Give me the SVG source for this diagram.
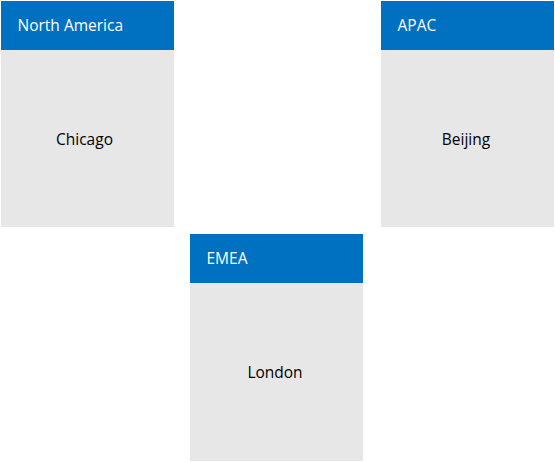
<svg xmlns="http://www.w3.org/2000/svg" width="555" height="462" viewBox="0 0 555 462">
<style>
.body{fill:#E7E7E7}
.head{fill:#0070C0}
.ht{font-family:"Open Sans","Noto Sans",sans-serif;font-size:15.5px;fill:#FFFFFF}
.bt{font-family:"Open Sans","Noto Sans",sans-serif;font-size:15.5px;fill:#000000;text-anchor:middle}
</style>
<rect width="555" height="462" fill="#FFFFFF"/>
<g id="north-america">
<rect class="body" x="1" y="1" width="173" height="226"/>
<rect class="head" x="1" y="1" width="173" height="49"/>
<text class="ht" x="17.5" y="31">North America</text>
<text class="bt" x="84.5" y="144.5">Chicago</text>
</g>
<g id="apac">
<rect class="body" x="381" y="1" width="173" height="226"/>
<rect class="head" x="381" y="1" width="173" height="49"/>
<text class="ht" x="397.5" y="31">APAC</text>
<text class="bt" x="466" y="144.5">Beijing</text>
</g>
<g id="emea">
<rect class="body" x="190" y="234" width="173" height="227"/>
<rect class="head" x="190" y="234" width="173" height="49"/>
<text class="ht" x="206.5" y="264">EMEA</text>
<text class="bt" x="275" y="378">London</text>
</g>
<g id="connectors"/>
</svg>
